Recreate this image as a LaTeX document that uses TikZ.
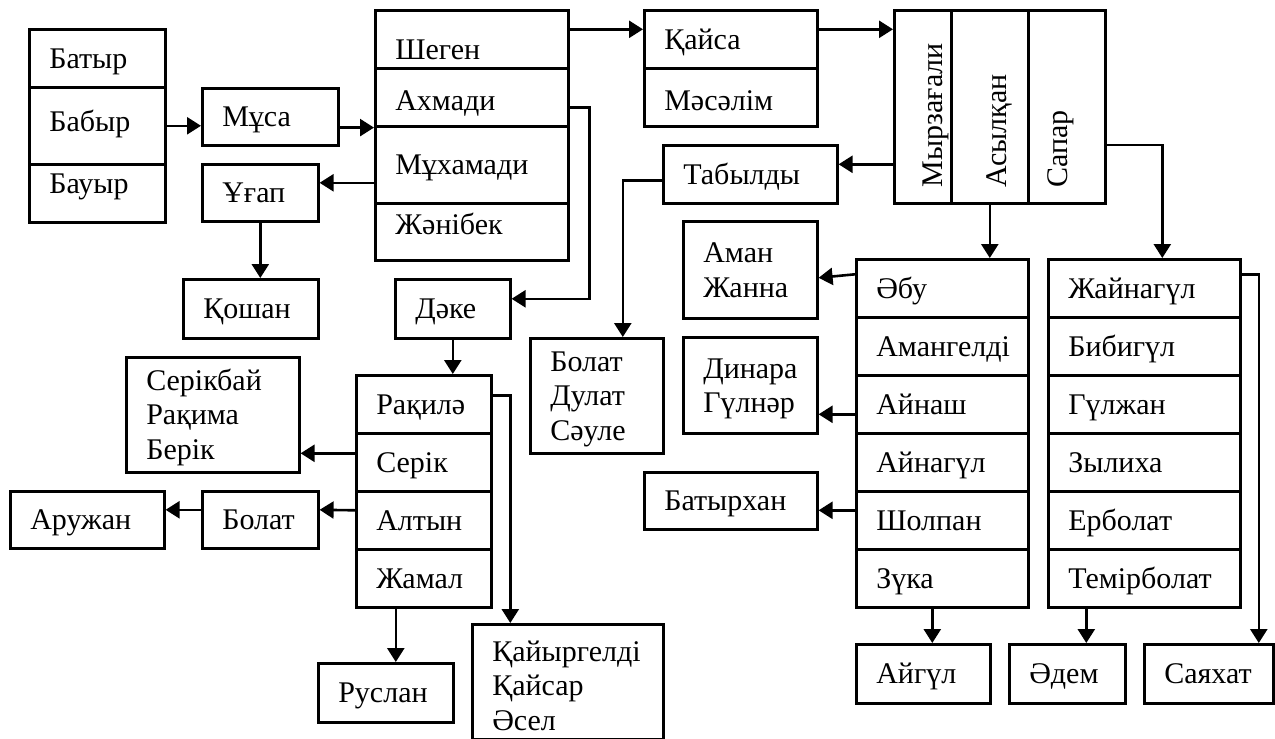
\documentclass[tikz,border=0pt]{standalone}
\usepackage{fontspec}
\setmainfont{Liberation Serif}
\usetikzlibrary{arrows.meta}
\tikzset{
  box/.style 2 args={draw, line width=1.3pt, anchor=north west, inner xsep=10pt, inner ysep=0pt,
    text width=#1*0.5pt-20pt, minimum height=#2*0.5pt, align=left,
    text height=10pt, text depth=0pt, font=\fontsize{15}{17.25}\selectfont},
  lines2/.style={text depth=17.25pt},
  lines3/.style={text depth=34.5pt},
  col/.style 2 args={draw, line width=1.3pt, anchor=north west, inner sep=0pt,
    minimum width=#1*0.5pt, minimum height=#2*0.5pt},
  vname/.style={rotate=90, anchor=base west, inner sep=0pt, font=\fontsize{15}{17.25}\selectfont},
  arr/.style={line width=1.3pt, -{Triangle[length=7pt,width=8.5pt]}}
}
\begin{document}
\begin{tikzpicture}[x=0.5pt,y=-0.5pt]
\useasboundingbox (0,0) rectangle (1275,739);
% left part
\node[box={136}{58}] (batyr) at (28,28) {Батыр};
\node[box={136}{77}, text depth=4pt] (babyr) at (28,86) {Бабыр};
\node[box={136}{58}, text depth=10pt] (bauyr) at (28,163) {Бауыр};
\node[box={136}{57}] (musa) at (201,87) {Мұса};
\node[box={116}{57}] (ugap) at (201,163) {Ұғап};
\node[box={135}{59}] (qoshan) at (182,278) {Қошан};
\node[box={193}{58}, text height=20pt] (shegen) at (374,9) {Шеген};
\node[box={193}{58}, text height=13pt] (ahmadi) at (374,67) {Ахмади};
\node[box={193}{77}] (mukh) at (374,125) {Мұхамади};
\node[box={193}{57}, text depth=7pt] (zhanibek) at (374,202) {Жәнібек};
\node[box={115}{59}] (dake) at (394,278) {Дәке};
\node[box={135}{58}] (rakila) at (355,374) {Рақилә};
\node[box={135}{58}] (serik) at (355,432) {Серік};
\node[box={135}{58}] (altyn) at (355,490) {Алтын};
\node[box={135}{58}] (zhamal) at (355,548) {Жамал};
\node[box={173}{115}, lines3] (serikbay) at (125,356) {Серікбай\\Рақима\\Берік};
\node[box={116}{57}] (bolat) at (201,490) {Болат};
\node[box={154}{57}] (aruzhan) at (9,490) {Аружан};
\node[box={135}{59}] (ruslan) at (317,662) {Руслан};
\node[box={191}{115}, lines3, text height=14pt] (qayyr) at (471,623) {Қайыргелді\\Қайсар\\Әсел};
% middle
\node[box={173}{58}] (qaysa) at (643,9) {Қайса};
\node[box={173}{58}, text height=13pt] (masalim) at (643,67) {Мәсәлім};
\node[box={174}{58}] (tabyldy) at (662,144) {Табылды};
\node[box={133}{115}, lines3] (bds) at (529,337) {Болат\\Дулат\\Сәуле};
\node[box={134}{97}, lines2] (aman) at (682,220) {Аман\\Жанна};
\node[box={134}{96}, lines2] (dinara) at (682,336) {Динара\\Гүлнәр};
\node[box={173}{57}] (batyrkhan) at (643,471) {Батырхан};
% right part
\node[col={57}{193}] (myrza) at (893,9) {};
\node[col={77}{193}] (asylqan) at (950,9) {};
\node[col={77}{193}] (sapar) at (1027,9) {};
\node[vname] (myrzatxt) at (942,188) {Мырзағали};
\node[vname] (asylqantxt) at (1006,188) {Асылқан};
\node[vname] (sapartxt) at (1067,188) {Сапар};
\node[box={172}{58}] (abu) at (855,258) {Әбу};
\node[box={172}{58}] (amangeldi) at (855,316) {Амангелді};
\node[box={172}{58}] (aynash) at (855,374) {Айнаш};
\node[box={172}{58}] (aynagul) at (855,432) {Айнагүл};
\node[box={172}{58}] (sholpan) at (855,490) {Шолпан};
\node[box={172}{58}] (zuka) at (855,548) {Зүка};
\node[box={192}{58}] (zhaynagul) at (1047,258) {Жайнагүл};
\node[box={192}{58}] (bibigul) at (1047,316) {Бибигүл};
\node[box={192}{58}] (gulzhan) at (1047,374) {Гүлжан};
\node[box={192}{58}] (zylikha) at (1047,432) {Зылиха};
\node[box={192}{58}] (erbolat) at (1047,490) {Ерболат};
\node[box={192}{58}] (temirbolat) at (1047,548) {Темірболат};
\node[box={134}{59}] (aygul) at (855,643) {Айгүл};
\node[box={116}{59}] (adem) at (1008,643) {Әдем};
\node[box={129}{59}] (sayakhat) at (1143,643) {Саяхат};
% arrows
\draw[arr] (babyr.east) -- (babyr.east -| musa.west);
\draw[arr] (musa.east |- ahmadi.south west) -- (ahmadi.south west);
\draw[arr] ([yshift=5pt]ugap.east -| mukh.west) -- ([yshift=5pt]ugap.east);
\draw[arr] (ugap.south) -- (ugap.south |- qoshan.north);
\draw[arr] ([yshift=5pt]shegen.east) -- ([yshift=5pt]shegen.east -| qaysa.west);
\draw[arr] ([yshift=5pt]qaysa.east) -- ([yshift=5pt]qaysa.east -| myrza.west);
\draw[arr] ([yshift=-5pt]ahmadi.east) -- ++(10pt,0) |- ([yshift=5pt]dake.east);
\draw[arr] (dake.south) -- (dake.south |- rakila.north);
\draw[arr] ([yshift=4.5pt]serik.west) -- ([yshift=4.5pt]serik.west -| serikbay.east);
\draw[arr] ([yshift=5pt]altyn.west) -- ([yshift=5pt]bolat.east);
\draw[arr] ([yshift=5pt]bolat.west) -- ([yshift=5pt]bolat.west -| aruzhan.east);
\draw[arr] ([xshift=5pt]ruslan.north |- zhamal.south) -- ([xshift=5pt]ruslan.north);
\draw[arr] ([yshift=4.5pt]rakila.east) -| ([xshift=-28.75pt]qayyr.north);
\draw[arr] ([yshift=5pt]tabyldy.east -| myrza.west) -- ([yshift=5pt]tabyldy.east);
\draw[arr] ([yshift=-3pt]tabyldy.west) -| ([xshift=13pt]bds.north);
\draw[arr] (asylqan.south) -- (asylqan.south |- abu.north);
\draw[arr] ([yshift=-19pt]sapar.east) -| ([xshift=9pt]zhaynagul.north);
\draw[arr] ([yshift=7pt]abu.west) -- ([yshift=-4pt]aman.east);
\draw[arr] ([yshift=-5pt]aynash.west) -- ([yshift=-5pt]aynash.west -| dinara.east);
\draw[arr] ([yshift=5pt]sholpan.west) -- ([yshift=5pt]sholpan.west -| batyrkhan.east);
\draw[arr] ([xshift=-5pt]zuka.south) -- ([xshift=-5pt]zuka.south |- aygul.north);
\draw[arr] ([xshift=9.5pt]adem.north |- temirbolat.south) -- ([xshift=9.5pt]adem.north);
\draw[arr] ([yshift=7pt]zhaynagul.east) -| ([xshift=25pt]sayakhat.north);
\end{tikzpicture}
\end{document}
